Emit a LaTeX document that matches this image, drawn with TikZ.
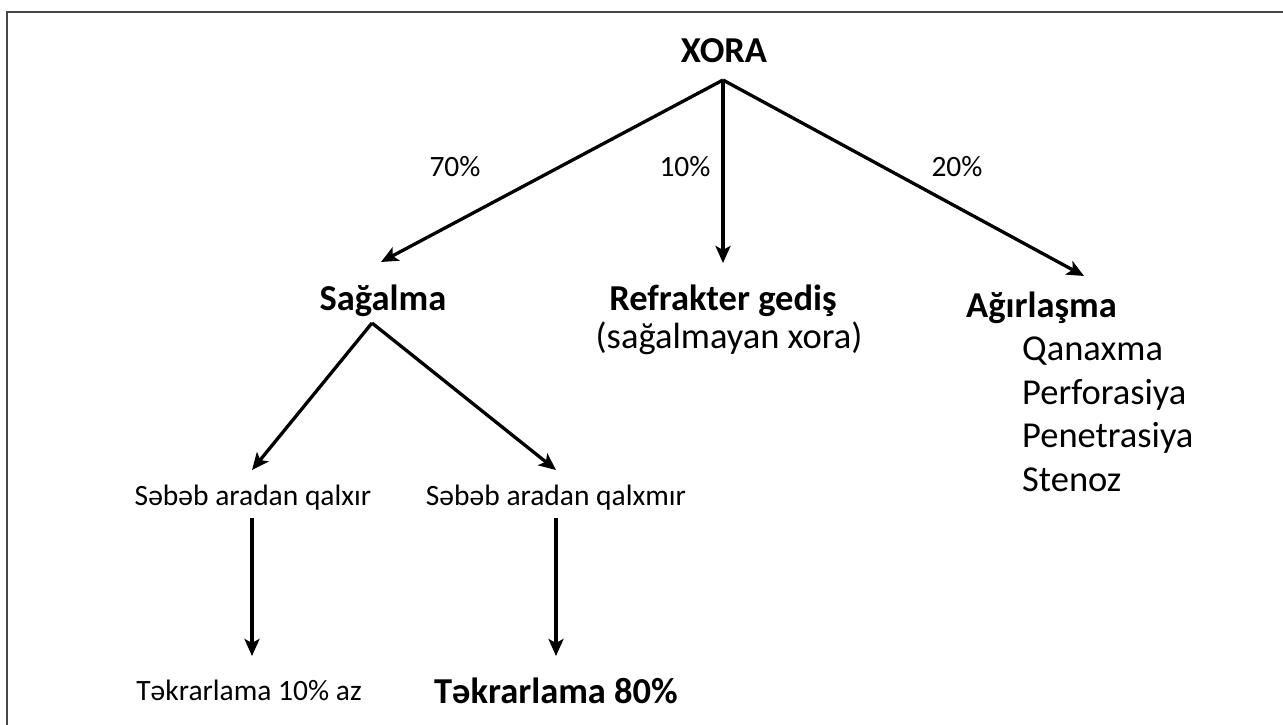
\documentclass[tikz,border=0pt]{standalone}
\usepackage{fontspec}
\setmainfont{Carlito}
\usetikzlibrary{arrows.meta}
\tikzset{
  big/.style={inner sep=0pt,anchor=base,font=\fontsize{36.5}{44}\selectfont},
  bigb/.style={big,font=\fontsize{36.5}{44}\selectfont\bfseries},
  small/.style={inner sep=0pt,anchor=base,font=\fontsize{29.5}{35}\selectfont},
  conn/.style={line width=3.3pt,-{Stealth[length=17pt,width=15pt,inset=4pt]}},
  frame/.style={line width=2.2pt,draw=black!72}
}
\begin{document}
\begin{tikzpicture}[x=1pt,y=-1pt]
\useasboundingbox (0,0) rectangle (1283,725);
\fill[white] (0,0) rectangle (1283,725);
\draw[frame] (7,725) -- (7,12) -- (1283,12);
% nodes
\node[bigb] (xora) at (724,63) {XORA};
\node[small] (p70) at (455,176) {70\%};
\node[small] (p10) at (685,176) {10\%};
\node[small] (p20) at (957,176) {20\%};
\node[bigb] (sag) at (383,310) {Sağalma};
\node[bigb] (ref) at (723,310) {Refrakter gediş};
\node[big] (refsub) at (729,348) {(sağalmayan xora)};
\node[bigb,anchor=base west] (agir) at (966,317) {Ağırlaşma};
\node[big,anchor=base west] (q1) at (1022,360) {Qanaxma};
\node[big,anchor=base west] (q2) at (1022,404) {Perforasiya};
\node[big,anchor=base west] (q3) at (1022,447) {Penetrasiya};
\node[big,anchor=base west] (q4) at (1022,491) {Stenoz};
\node[small] (s1) at (253,505) {Səbəb aradan qalxır};
\node[small] (s2) at (556,505) {Səbəb aradan qalxmır};
\node[small] (t1) at (249,700) {Təkrarlama 10\% az};
\node[bigb] (t2) at (556,703) {Təkrarlama 80\%};
% connector end points
\coordinate (xa) at (723,80);
\coordinate (ea) at (381,262);
\coordinate (eb) at (723,263);
\coordinate (ec) at (1084,276);
\coordinate (sa) at (372,323);
\coordinate (sl) at (252,470);
\coordinate (sr) at (556,470);
\coordinate (v1a) at (252,518);
\coordinate (v1b) at (252,656);
\coordinate (v2a) at (556,518);
\coordinate (v2b) at (556,656);
\draw[conn] (xa) -- (ea);
\draw[conn] (xa) -- (eb);
\draw[conn] (xa) -- (ec);
\draw[conn] (sa) -- (sl);
\draw[conn] (sa) -- (sr);
\draw[conn] (v1a) -- (v1b);
\draw[conn] (v2a) -- (v2b);
\end{tikzpicture}
\end{document}
